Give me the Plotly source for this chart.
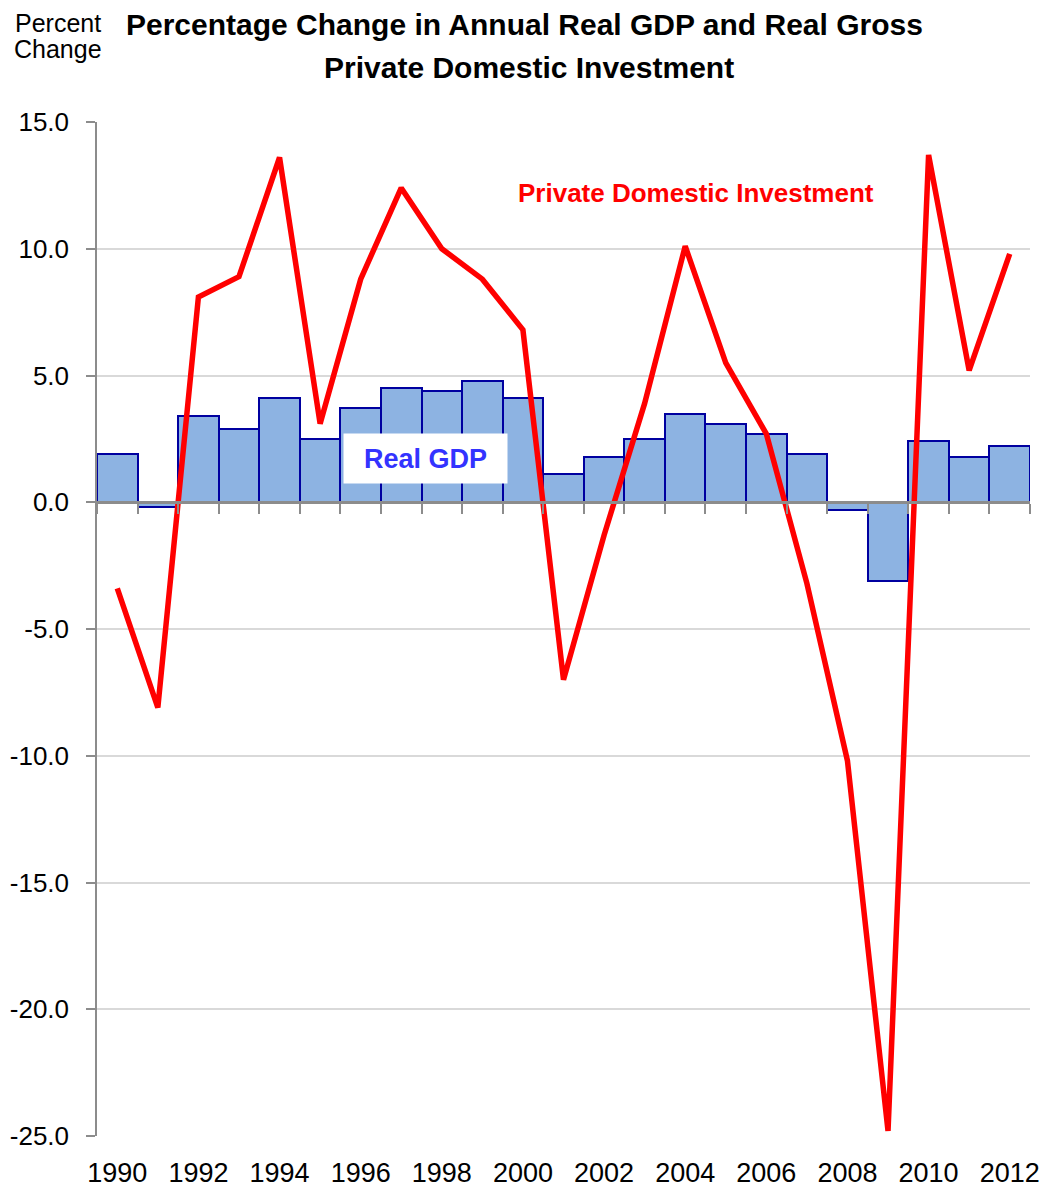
import plotly.graph_objects as go

years = list(range(1990, 2013))
real_gdp = [1.9, -0.2, 3.4, 2.9, 4.1, 2.5, 3.7, 4.5, 4.4, 4.8, 4.1, 1.1, 1.8, 2.5,
            3.5, 3.1, 2.7, 1.9, -0.3, -3.1, 2.4, 1.8, 2.2]
investment = [-3.4, -8.1, 8.1, 8.9, 13.6, 3.1, 8.8, 12.4, 10.0, 8.8, 6.8, -7.0, -1.3, 3.9,
              10.1, 5.5, 2.7, -3.2, -10.2, -24.8, 13.7, 5.2, 9.8]
x_tick_years = list(range(1990, 2013, 2))
y_ticks = [15, 10, 5, 0, -5, -10, -15, -20, -25]
y_tick_text = ["15.0", "10.0", "5.0", "0.0", "-5.0", "-10.0", "-15.0", "-20.0", "-25.0"]
boundaries = [y - 0.5 for y in years] + [years[-1] + 0.5]

FONT = "Liberation Sans, Arial, sans-serif"

fig = go.Figure()
fig.add_trace(go.Bar(
    x=years, y=real_gdp, width=1.0,
    marker=dict(color="#8DB3E2", line=dict(color="#0000A0", width=2)),
    name="Real GDP", showlegend=False, hoverinfo="x+y",
))
fig.add_trace(go.Scatter(
    x=years, y=investment, mode="lines",
    line=dict(color="#FF0000", width=5.5),
    name="Private Domestic Investment", showlegend=False,
))
# invisible trace to host boundary tick axis at zero line
fig.add_trace(go.Scatter(
    x=[boundaries[0], boundaries[-1]], y=[0, 0], xaxis="x2", mode="lines",
    line=dict(width=0), hoverinfo="skip", showlegend=False,
))

fig.update_layout(
    width=1044, height=1181,
    margin=dict(l=89, r=22, t=114, b=53),
    paper_bgcolor="white", plot_bgcolor="white",
    font=dict(family=FONT, color="black"),
    xaxis=dict(
        range=[boundaries[0], boundaries[-1]],
        tickmode="array", tickvals=x_tick_years, ticktext=[str(v) for v in x_tick_years],
        ticks="", showgrid=False, showline=False, zeroline=False,
        tickfont=dict(family=FONT, size=27), ticklabelstandoff=18,
        automargin=False,
    ),
    xaxis2=dict(
        overlaying="x", anchor="free", position=25 / 40,
        range=[boundaries[0], boundaries[-1]],
        tickmode="array", tickvals=boundaries, showticklabels=False,
        ticks="outside", ticklen=10, tickwidth=2, tickcolor="#8C8C8C",
        showline=True, linecolor="#8C8C8C", linewidth=3,
        showgrid=False, zeroline=False,
    ),
    yaxis=dict(
        range=[-25, 15],
        tickmode="array", tickvals=y_ticks, ticktext=y_tick_text,
        ticks="outside", ticklen=9, tickwidth=1.5, tickcolor="#8C8C8C",
        showline=True, linecolor="#8C8C8C", linewidth=1.5,
        showgrid=True, gridcolor="#D9D9D9", gridwidth=1.5,
        zeroline=False,
        tickfont=dict(family=FONT, size=26), ticklabelstandoff=12,
        automargin=False,
    ),
    bargap=0,
    annotations=[
        dict(text="<b>Percentage Change in Annual Real GDP and Real Gross</b>",
             xref="paper", yref="paper", x=0.4587, y=1.0966,
             xanchor="center", yanchor="middle", showarrow=False,
             font=dict(family=FONT, size=30, color="black")),
        dict(text="<b>Private Domestic Investment</b>",
             xref="paper", yref="paper", x=0.463, y=1.0537,
             xanchor="center", yanchor="middle", showarrow=False,
             font=dict(family=FONT, size=30, color="black")),
        dict(text="Percent", xref="paper", yref="paper",
             x=-0.0418, y=1.0976, xanchor="center", yanchor="middle", showarrow=False,
             font=dict(family=FONT, size=25, color="black")),
        dict(text="Change", xref="paper", yref="paper",
             x=-0.0418, y=1.0720, xanchor="center", yanchor="middle", showarrow=False,
             font=dict(family=FONT, size=25, color="black")),
        dict(text="<b>Private Domestic Investment</b>", xref="paper", yref="paper",
             x=0.642, y=0.930, xanchor="center", yanchor="middle", showarrow=False,
             font=dict(family=FONT, size=26, color="#FF0000")),
        dict(text="<b>Real GDP</b>", xref="paper", yref="paper",
             x=0.3526, y=0.668, xanchor="center", yanchor="middle", showarrow=False,
             font=dict(family=FONT, size=27, color="#3333FF"),
             bgcolor="white", width=161, height=47),
    ],
)

fig.write_html("out.html")
